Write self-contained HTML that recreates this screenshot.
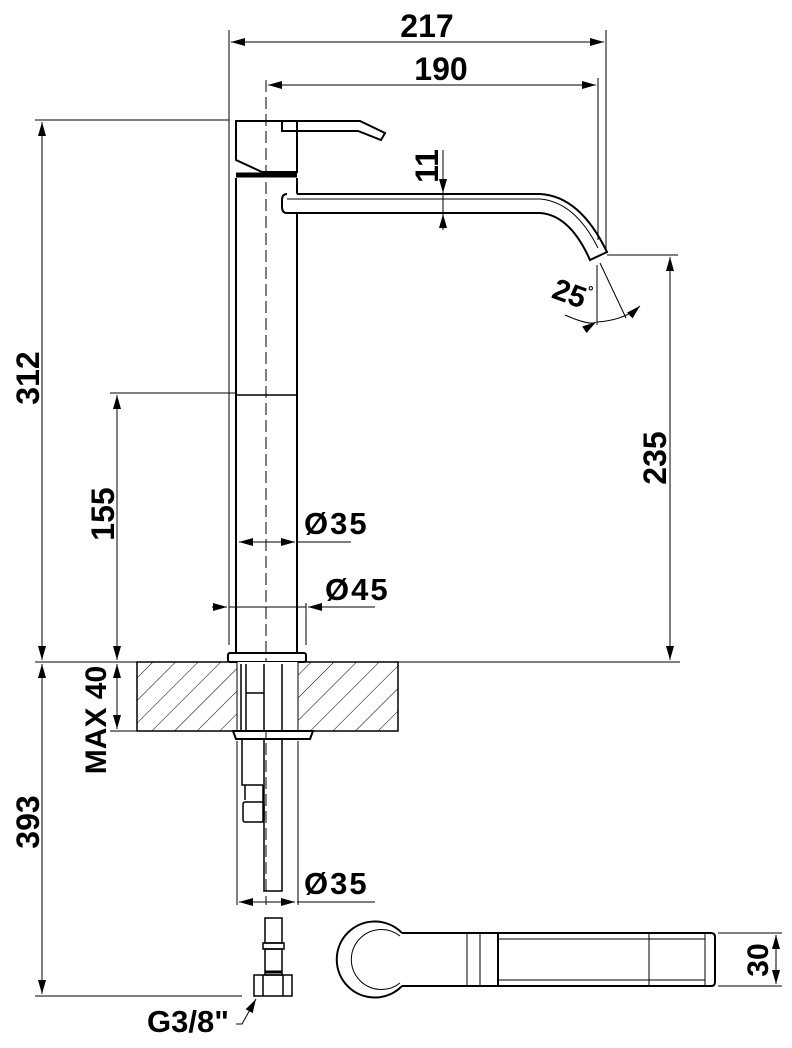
<!DOCTYPE html>
<html><head><meta charset="utf-8"><style>
html,body{margin:0;padding:0;background:#fff;}
svg{display:block;}
text{font-family:"Liberation Sans",sans-serif;font-weight:bold;fill:#000;}
</style></head><body>
<svg width="792" height="1048" viewBox="0 0 792 1048" xmlns="http://www.w3.org/2000/svg">
<defs>
<marker id="a" viewBox="0 0 14 8" refX="14" refY="4" markerWidth="14" markerHeight="8" markerUnits="userSpaceOnUse" orient="auto-start-reverse"><path d="M0,0L14,4L0,8z" fill="#000"/></marker>
<pattern id="h" patternUnits="userSpaceOnUse" width="16" height="16" patternTransform="rotate(45)"><line x1="0" y1="0" x2="0" y2="16" stroke="#000" stroke-width="1"/></pattern>
</defs>
<g stroke="#000" fill="none" stroke-width="1">
<line x1="229" y1="30" x2="229" y2="122"/>
<line x1="606" y1="30" x2="606" y2="250"/>
<line x1="598" y1="78" x2="598" y2="240"/>
<line x1="231" y1="42" x2="604" y2="42" marker-start="url(#a)" marker-end="url(#a)"/>
<line x1="268" y1="85" x2="596" y2="85" marker-start="url(#a)" marker-end="url(#a)"/>
<line x1="266" y1="80" x2="266" y2="905" stroke-dasharray="12,5"/>
<line x1="35" y1="120" x2="229" y2="120"/>
<line x1="42" y1="122" x2="42" y2="660" marker-start="url(#a)" marker-end="url(#a)"/>
<line x1="35" y1="662" x2="680" y2="662"/>
<line x1="42" y1="664" x2="42" y2="994" marker-start="url(#a)" marker-end="url(#a)"/>
<line x1="35" y1="996" x2="242" y2="996"/>
<line x1="110" y1="393" x2="236" y2="393"/>
<line x1="117" y1="395" x2="117" y2="660" marker-start="url(#a)" marker-end="url(#a)"/>
<line x1="117" y1="664" x2="117" y2="729" marker-start="url(#a)" marker-end="url(#a)"/>
<line x1="110" y1="731" x2="137" y2="731"/>
<line x1="607" y1="255" x2="678" y2="255"/>
<line x1="670" y1="257" x2="670" y2="660" marker-start="url(#a)" marker-end="url(#a)"/>
<g stroke-width="2">
<path d="M236,121 L297,121 L297,172 L262,172 L236,160 Z"/>
<path d="M282,121 L360,121 L385,133 L381,140 L358,131 L290,131"/>
<path d="M282,121 L282,131 L290,131"/>
<path d="M236,178 L236,652 M297,178 L297,194 M297,213 L297,652"/>
<line x1="236" y1="175" x2="297" y2="175" stroke-width="5"/>
<path d="M297,194 L540,194 Q580,196 607,252 L590,260 Q570,215 540,213 L287,213 Q282,213 282,207 L282,200 Q282,194 287,194"/>
</g>
<line x1="236" y1="395" x2="297" y2="395" stroke-width="1.5"/>
<line x1="287" y1="199" x2="540" y2="199"/>
<path d="M540,199 Q575,202 598,248"/>
<line x1="229" y1="122" x2="229" y2="645"/>
<line x1="306" y1="603" x2="306" y2="645"/>
<line x1="443" y1="150" x2="443" y2="193" marker-end="url(#a)"/>
<line x1="443" y1="230" x2="443" y2="214" marker-end="url(#a)"/>
<line x1="443" y1="194" x2="443" y2="213"/>
<line x1="597" y1="265" x2="597" y2="325"/>
<line x1="600" y1="263" x2="626" y2="318"/>
<path d="M565,315 Q590,326 596,322" marker-end="url(#a)"/>
<path d="M597,322 Q625,320 640,306" marker-end="url(#a)"/>
<line x1="239" y1="542" x2="295" y2="542" marker-start="url(#a)" marker-end="url(#a)"/>
<line x1="297" y1="542" x2="351" y2="542"/>
<line x1="212" y1="607" x2="227" y2="607" marker-end="url(#a)"/>
<line x1="229" y1="607" x2="306" y2="607"/>
<line x1="375" y1="607" x2="308" y2="607" marker-end="url(#a)"/>
<rect x="228" y="653" width="78" height="9" rx="2" stroke-width="2"/>
<rect x="137" y="662" width="100" height="69" fill="url(#h)"/>
<rect x="298" y="662" width="100" height="69" fill="url(#h)"/>
<rect x="137" y="662" width="261" height="69" stroke-width="1.5"/>
<rect x="237" y="662" width="61" height="69" fill="#fff" stroke="none"/>
<line x1="237" y1="662" x2="237" y2="731"/>
<line x1="298" y1="662" x2="298" y2="731"/>
<g stroke-width="1.5">
<line x1="241" y1="664" x2="241" y2="731"/>
<line x1="264" y1="664" x2="264" y2="731"/>
<line x1="282" y1="664" x2="282" y2="731"/>
<line x1="246" y1="664" x2="246" y2="731"/>
<line x1="246" y1="693" x2="264" y2="693"/>
</g>
<path d="M233,731 L313,731 L310,739 L236,739 Z" stroke-width="2"/>
<line x1="237" y1="741" x2="237" y2="905"/>
<line x1="298" y1="741" x2="298" y2="905"/>
<g stroke-width="1.5">
<path d="M242,739 L242,785 L263,785 M264,739 L264,891 L282,891 L282,739"/>
<path d="M245,785 L245,800 M263,785 L263,822"/>
<rect x="243" y="802" width="21" height="20" rx="2"/>
</g>
<line x1="239" y1="902" x2="295" y2="902" marker-start="url(#a)" marker-end="url(#a)"/>
<line x1="297" y1="902" x2="375" y2="902"/>
<g stroke-width="1.5">
<rect x="265" y="918" width="17" height="25"/>
<rect x="263" y="943" width="21" height="6"/>
<rect x="265" y="949" width="17" height="26"/>
<line x1="265" y1="972" x2="282" y2="972" stroke-width="3"/>
<rect x="254" y="975" width="38" height="21"/>
<line x1="263" y1="975" x2="263" y2="996"/>
<line x1="283" y1="975" x2="283" y2="996"/>
</g>
<path d="M236,1024 L242,1024 L256,999" marker-end="url(#a)"/>
<g stroke-width="2">
<path d="M402,933 A38,38 0 1 0 402,986"/>
<path d="M402,933 L711,933 Q715,933 715,937 L715,982 Q715,986 711,986 L402,986"/>
</g>
<path d="M400,936 A30,30 0 1 0 400,983"/>
<line x1="467" y1="933" x2="467" y2="986"/>
<line x1="480" y1="933" x2="480" y2="986"/>
<line x1="498" y1="933" x2="498" y2="986" stroke-width="2"/>
<line x1="498" y1="939" x2="705" y2="939"/>
<line x1="498" y1="980" x2="705" y2="980"/>
<line x1="649" y1="933" x2="649" y2="986"/>
<line x1="705" y1="933" x2="705" y2="986"/>
<line x1="718" y1="933" x2="782" y2="933"/>
<line x1="718" y1="986" x2="782" y2="986"/>
<line x1="776" y1="935" x2="776" y2="984" marker-start="url(#a)" marker-end="url(#a)"/>
</g>
<text x="427" y="37" font-size="32" text-anchor="middle">217</text>
<text x="441" y="80" font-size="32" text-anchor="middle">190</text>
<text transform="translate(438,166) rotate(-90)" font-size="32" text-anchor="middle">11</text>
<text transform="translate(566,303) rotate(20)" font-size="30" text-anchor="middle">25</text>
<text x="588" y="296" font-size="14">°</text>
<text transform="translate(666,458) rotate(-90)" font-size="32" text-anchor="middle">235</text>
<text transform="translate(39,378) rotate(-90)" font-size="32" text-anchor="middle">312</text>
<text transform="translate(114,514) rotate(-90)" font-size="32" text-anchor="middle">155</text>
<text transform="translate(106,720) rotate(-90)" font-size="30" text-anchor="middle">MAX 40</text>
<text transform="translate(39,822) rotate(-90)" font-size="32" text-anchor="middle">393</text>
<text transform="translate(768,960) rotate(-90)" font-size="30" text-anchor="middle">30</text>
<text x="304" y="534" font-size="31" letter-spacing="2">Ø35</text>
<text x="325" y="600" font-size="31" letter-spacing="2">Ø45</text>
<text x="304" y="894" font-size="31" letter-spacing="2">Ø35</text>
<text x="147" y="1032" font-size="31">G3/8"</text>
</svg>
</body></html>
